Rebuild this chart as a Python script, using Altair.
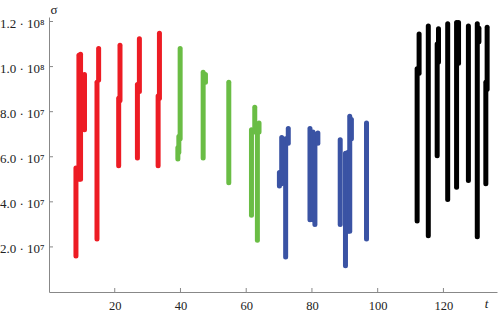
import altair as alt
import pandas as pd

# ---- data ----
t_vals = [8.2, 9.1, 9.6, 10.8, 14.6, 15.1, 21.2, 21.6, 26.9, 27.5, 33.2, 33.6,
          39.2, 39.5, 39.9, 46.9, 47.6, 54.7, 61.6, 62.6, 63.4, 63.9,
          70.1, 70.8, 72.0, 72.8, 79.4, 80.3, 80.9, 81.8, 88.6, 90.2, 91.0, 91.5, 92.0, 96.6,
          112.0, 112.6, 115.4, 118.1, 118.5, 121.3, 124.0, 124.6, 127.6, 130.3, 130.8, 132.9, 133.3]
lo_vals = [1.6e7, 5.0e7, 5.0e7, 7.2e7, 2.35e7, 9.4e7, 5.6e7, 8.5e7, 5.95e7, 8.9e7, 5.6e7, 8.6e7,
           5.9e7, 6.2e7, 6.8e7, 5.95e7, 9.3e7, 4.85e7, 3.4e7, 7.1e7, 2.3e7, 7.1e7,
           4.7e7, 4.8e7, 1.55e7, 6.6e7, 3.2e7, 3.2e7, 3.0e7, 6.6e7, 3.0e7, 1.17e7, 2.7e7, 2.7e7, 6.8e7, 2.35e7,
           3.15e7, 9.7e7, 2.5e7, 6.05e7, 1.02e8, 4.1e7, 4.65e7, 1.015e8, 4.95e7, 2.45e7, 1.11e8, 4.8e7, 9.0e7]
hi_vals = [5.5e7, 1.05e8, 1.055e8, 9.65e7, 9.3e7, 1.08e8, 8.6e7, 1.095e8, 9.2e7, 1.123e8, 8.7e7, 1.148e8,
           6.4e7, 6.9e7, 1.08e8, 9.75e7, 9.65e7, 9.3e7, 7.2e7, 8.2e7, 7.4e7, 7.5e7,
           5.3e7, 6.85e7, 6.8e7, 7.25e7, 7.25e7, 7.1e7, 7.0e7, 7.05e7, 6.75e7, 6.15e7, 6.2e7, 7.8e7, 7.65e7, 7.5e7,
           9.9e7, 1.145e8, 1.18e8, 1.1e8, 1.168e8, 1.19e8, 1.196e8, 1.196e8, 1.18e8, 1.19e8, 1.17e8, 9.3e7, 1.175e8]
groups = (["red"] * 12 + ["green"] * 10 + ["blue"] * 14 + ["black"] * 13)

x_tick_vals = [20, 40, 60, 80, 100, 120]
y_tick_vals = [2e7, 4e7, 6e7, 8e7, 1e8, 1.2e8]

group_names = ["red", "green", "blue", "black"]
group_colors = ["#ED1C24", "#6ABD45", "#3A53A4", "#000000"]

df = pd.DataFrame({"t": t_vals, "lo": lo_vals, "hi": hi_vals, "g": groups})
xt = pd.DataFrame({"v": x_tick_vals})
yt = pd.DataFrame({"v": y_tick_vals})

W, H = 448, 275
FONT = "Liberation Serif"

x_scale = alt.Scale(domain=[0, 136.3], nice=False, zero=False)
y_scale = alt.Scale(domain=[0, 1.22e8], nice=False)

y_label_expr = ("datum.value >= 1e8 ? format(datum.value/1e8, '.1f') + '\u00a0\u00b7\u00a010\u2078' : "
                "format(datum.value/1e7, '.1f') + '\u00a0\u00b7\u00a010\u2077'")

bars = alt.Chart(df).mark_rule(strokeWidth=5, strokeCap="round").encode(
    x=alt.X("t:Q", scale=x_scale,
            axis=alt.Axis(values=x_tick_vals, title="t", titleFontStyle="italic",
                          titleFontWeight="normal", titleFont=FONT, titleFontSize=13,
                          titleX=437, titleY=11, titleBaseline="middle", titleAlign="center",
                          labelPadding=7, grid=False, format="d")),
    y=alt.Y("lo:Q", scale=y_scale,
            axis=alt.Axis(values=y_tick_vals, title="\u03c3", titleAngle=0,
                          titleFontWeight="normal", titleFont=FONT, titleFontSize=13,
                          titleX=1, titleY=-8, titleAlign="left", titleBaseline="middle",
                          labelExpr=y_label_expr, labelPadding=5, labelOffset=1.5,
                          labelFontSize=13, grid=False)),
    y2="hi:Q",
    color=alt.Color("g:N", scale=alt.Scale(domain=group_names, range=group_colors), legend=None),
)

xticks = alt.Chart(xt).mark_rule(color="#888888", strokeWidth=1).encode(
    x=alt.X("v:Q", scale=x_scale),
    y=alt.value(H),
    y2=alt.value(H - 4),
)
yticks = alt.Chart(yt).mark_rule(color="#888888", strokeWidth=1).encode(
    y=alt.Y("v:Q", scale=y_scale),
    x=alt.value(0),
    x2=alt.value(4),
)

chart = alt.layer(bars, xticks, yticks).properties(
    width=W, height=H,
    autosize=alt.AutoSizeParams(type="none"),
    padding={"left": 49, "top": 17, "right": 3, "bottom": 20},
).configure_view(stroke=None).configure_axis(
    domainColor="#888888", domainWidth=1, tickSize=0,
    labelFont=FONT, labelFontSize=12.5, labelColor="#222222",
    titleColor="#222222",
)

chart.save("out.html", embed_options={"renderer": "svg", "actions": False})
